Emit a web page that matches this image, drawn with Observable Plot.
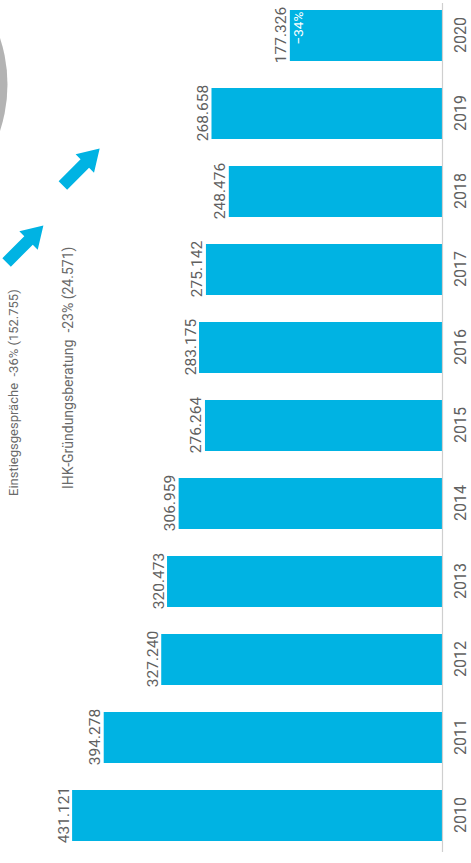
<!DOCTYPE html>
<html>
<head>
<meta charset="utf-8">
<script src="https://cdn.jsdelivr.net/npm/d3@7"></script>
<script src="https://cdn.jsdelivr.net/npm/@observablehq/plot@0.6"></script>
<style>
  html, body { margin: 0; padding: 0; background: #fff; overflow: hidden; width: 471px; height: 863px; }
  #wrap { position: absolute; left: 0; top: 0; width: 863px; height: 471px;
          transform-origin: 0 0; transform: translateY(863px) rotate(-90deg); }
</style>
</head>
<body>
<div id="wrap"></div>
<script>
// Data
const years = [2010, 2011, 2012, 2013, 2014, 2015, 2016, 2017, 2018, 2019, 2020];
const values = [431.121, 394.278, 327.240, 320.473, 306.959, 276.264, 283.175, 275.142, 248.476, 268.658, 177.326];
const changeLabel = "\u221234%";
const noteLabels = ["Einstiegsgespr\u00e4che  -36% (152.755)", "IHK-Gr\u00fcndungsberatung  -23% (24.571)"];

const data = years.map((year, i) => ({year, value: values[i]}));
const fmt = d3.format(".3f");
const CYAN = "#00b3e3";

// simple block-arrow shape for Plot.vector
const blockArrow = {
  draw(ctx, l) {
    const hw = 13, sw = 6, hl = 21;
    ctx.moveTo(-sw, 0);
    ctx.lineTo(-sw, -(l - hl));
    ctx.lineTo(-hw, -(l - hl));
    ctx.lineTo(0, -l);
    ctx.lineTo(hw, -(l - hl));
    ctx.lineTo(sw, -(l - hl));
    ctx.lineTo(sw, 0);
    ctx.closePath();
  }
};

const chart = Plot.plot({
  width: 863,
  height: 471,
  marginLeft: 21,
  marginRight: 10,
  marginTop: 13,
  marginBottom: 29,
  style: {fontFamily: "Roboto, sans-serif", background: "#fff"},
  x: {type: "band", domain: years, paddingInner: 0.347, paddingOuter: 0, axis: null},
  y: {domain: [0, 500], axis: null},
  marks: [
    // grey circle (partly visible)
    Plot.dot([years[9]], {x: d => d, y: () => 679.5, dx: 28.6, r: 148, fill: "#b3b3b3", stroke: "none"}),
    Plot.barY(data, {x: "year", y: "value", fill: CYAN}),
    Plot.ruleY([0], {stroke: "#cfcfcf", strokeWidth: 1.2, insetLeft: -10, insetRight: -7}),
    Plot.text(data, {x: "year", y: "value", text: d => fmt(d.value), lineAnchor: "bottom", dy: -4,
      fontSize: 15.5, fill: "#606060"}),
    Plot.text([data[10]], {x: "year", y: "value", text: () => changeLabel, textAnchor: "start", dx: -9.5,
      lineAnchor: "middle", dy: 8, fontSize: 13.5, fill: "#fff"}),
    Plot.axisX({tickSize: 0, tickPadding: 12, fontSize: 16, fill: "#606060", label: null, tickFormat: d => String(d)}),
    // annotations
    Plot.text([noteLabels[0]], {x: () => years[4], y: () => 500, text: d => d, textAnchor: "start", dx: 7,
      lineAnchor: "middle", fontSize: 13, fill: "#6a6a6a"}),
    Plot.text([noteLabels[1]], {x: () => years[4], y: () => 436, text: d => d, textAnchor: "start", dx: 14,
      lineAnchor: "middle", fontSize: 14, fill: "#6a6a6a"}),
    Plot.vector([0], {x: () => years[7], y: () => 486.6, dx: 25, length: 52, rotate: 135, shape: blockArrow,
      anchor: "middle", fill: CYAN, stroke: "none"}),
    Plot.vector([1], {x: () => years[8], y: () => 421, dx: 24, length: 52, rotate: 135, shape: blockArrow,
      anchor: "middle", fill: CYAN, stroke: "none"})
  ]
});
document.getElementById("wrap").appendChild(chart);
</script>
</body>
</html>
